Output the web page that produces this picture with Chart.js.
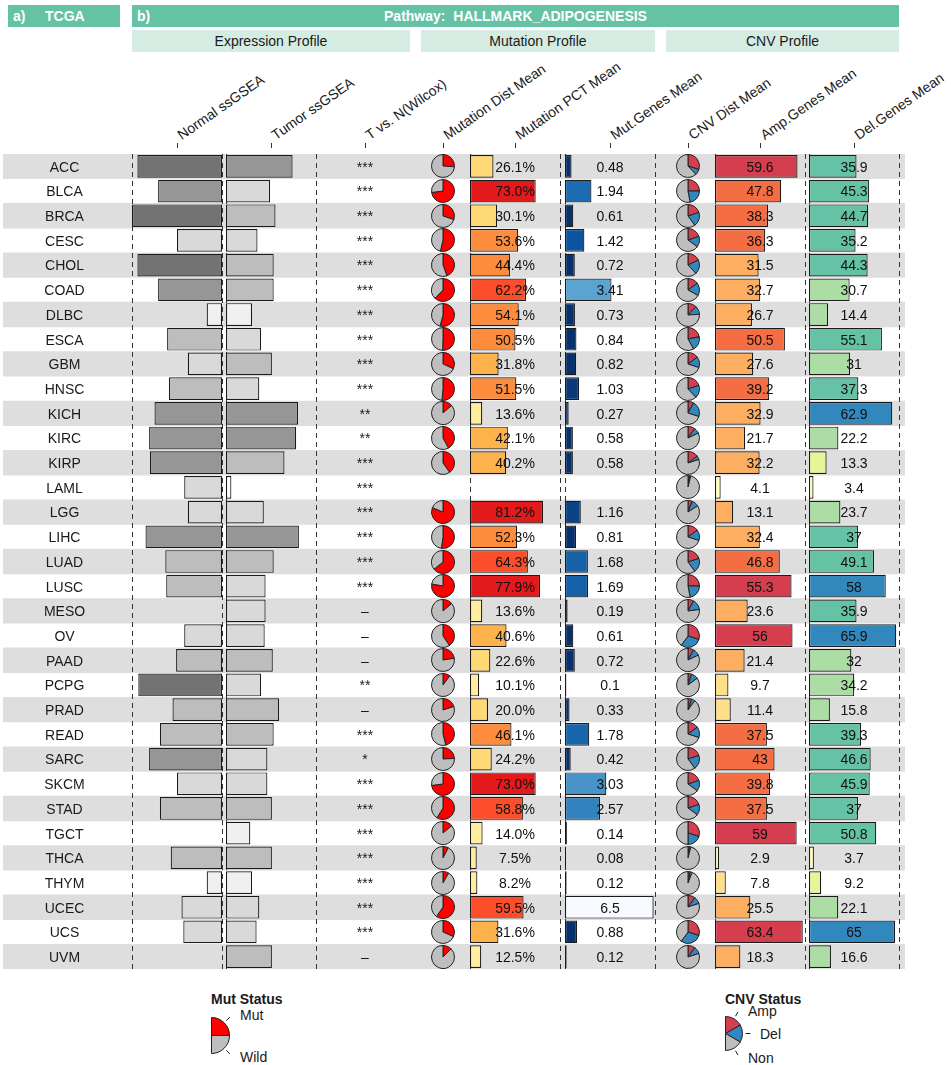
<!DOCTYPE html>
<html>
<head>
<meta charset="utf-8">
<title>HALLMARK_ADIPOGENESIS</title>
<script src="https://cdn.jsdelivr.net/npm/chart.js@4.4.1/dist/chart.umd.min.js"></script>
<style>
  body { margin: 0; background: #fff; }
  #page { position: relative; width: 951px; height: 1065px; overflow: hidden;
          font-family: "Liberation Sans", Arial, Helvetica, sans-serif; color: #1a1a1a; }
  #page canvas { position: absolute; }
  .hbar { position: absolute; top: 5px; height: 22px; line-height: 22px; background: #66c2a5;
          color: #fff; font-weight: bold; font-size: 14px; }
  .hbar span { position: absolute; top: 0; }
  .sub { position: absolute; top: 30px; height: 22px; line-height: 22px; background: #d5ece3;
         font-size: 14px; text-align: center; }
  .colname { position: absolute; top: 128px; height: 14px; line-height: 14px; font-size: 14px;
             white-space: nowrap; transform-origin: 0 100%; transform: rotate(-35deg); }
  .tick { position: absolute; top: 143px; width: 1px; height: 5px; background: #333; }
  .leg { position: absolute; font-size: 14px; line-height: 14px; white-space: nowrap; }
</style>
</head>
<body>
<div id="page">
  <div class="hbar" style="left:8px;width:112px"><span style="left:5px">a)</span><span style="left:37px">TCGA</span></div>
  <div class="hbar" style="left:132px;width:767px"><span style="left:5px">b)</span>
    <div style="text-align:center">Pathway:&nbsp; HALLMARK_ADIPOGENESIS</div></div>
  <div class="sub" style="left:132px;width:278px">Expression Profile</div>
  <div class="sub" style="left:421px;width:234px">Mutation Profile</div>
  <div class="sub" style="left:666px;width:233px">CNV Profile</div>

  <div class="leg" style="left:211px;top:992px;font-weight:bold">Mut Status</div>
  <div class="leg" style="left:240px;top:1008px">Mut</div>
  <div class="leg" style="left:240px;top:1050px">Wild</div>
  <div class="leg" style="left:725px;top:992px;font-weight:bold">CNV Status</div>
  <div class="leg" style="left:748px;top:1004px">Amp</div>
  <div class="leg" style="left:760px;top:1027px">Del</div>
  <div class="leg" style="left:748px;top:1051px">Non</div>
</div>

<script>
// ---- data ----
const cancers = ['ACC','BLCA','BRCA','CESC','CHOL','COAD','DLBC','ESCA','GBM','HNSC',
  'KICH','KIRC','KIRP','LAML','LGG','LIHC','LUAD','LUSC','MESO','OV',
  'PAAD','PCPG','PRAD','READ','SARC','SKCM','STAD','TGCT','THCA','THYM',
  'UCEC','UCS','UVM'];

// relative ssGSEA score (0-1)
const normalSsgsea = [0.94,0.71,1.00,0.50,0.94,0.71,0.17,0.61,0.38,0.59,
  0.75,0.81,0.80,0.42,0.38,0.85,0.63,0.62,null,0.42,
  0.51,0.93,0.55,0.69,0.81,0.50,0.69,null,0.57,0.17,
  0.45,0.43,null];
const tumorSsgsea = [0.74,0.49,0.55,0.35,0.53,0.53,0.29,0.39,0.51,0.37,
  0.80,0.78,0.65,0.06,0.42,0.81,0.53,0.44,0.44,0.43,
  0.52,0.39,0.59,0.53,0.46,0.46,0.51,0.27,0.51,0.29,
  0.37,0.34,0.51];
const tvnSignif = ['***','***','***','***','***','***','***','***','***','***',
  '**','**','***','***','***','***','***','***','\u2013','\u2013',
  '\u2013','**','\u2013','***','*','***','***','***','***','***',
  '***','***','\u2013'];

const mutPct = [26.1,73.0,30.1,53.6,44.4,62.2,54.1,50.5,31.8,51.5,
  13.6,42.1,40.2,null,81.2,52.3,64.3,77.9,13.6,40.6,
  22.6,10.1,20.0,46.1,24.2,73.0,58.8,14.0,7.5,8.2,
  59.5,31.6,12.5];
const mutGenes = [0.48,1.94,0.61,1.42,0.72,3.41,0.73,0.84,0.82,1.03,
  0.27,0.58,0.58,null,1.16,0.81,1.68,1.69,0.19,0.61,
  0.72,0.1,0.33,1.78,0.42,3.03,2.57,0.14,0.08,0.12,
  6.5,0.88,0.12];

// CNV distribution (% amplified / % deleted, rest = none)
const cnvAmp = [30,25,20,20,18,15,12,22,15,20,
  8,10,15,2,6,15,20,25,8,30,
  8,5,5,15,20,20,20,30,2,3,
  10,30,10];
const cnvDel = [8,22,20,15,20,18,12,20,15,18,
  22,8,5,2,10,15,20,22,15,30,
  10,10,5,15,20,15,15,20,2,3,
  10,30,10];
const ampGenes = [59.6,47.8,38.3,36.3,31.5,32.7,26.7,50.5,27.6,39.2,
  32.9,21.7,32.2,4.1,13.1,32.4,46.8,55.3,23.6,56,
  21.4,9.7,11.4,37.5,43,39.8,37.5,59,2.9,7.8,
  25.5,63.4,18.3];
const delGenes = [35.9,45.3,44.7,35.2,44.3,30.7,14.4,55.1,31,37.3,
  62.9,22.2,13.3,3.4,23.7,37,49.1,58,35.9,65.9,
  32,34.2,15.8,39.3,46.6,45.9,37,50.8,3.7,9.2,
  22.1,65,16.6];

const columnNames = ['Normal ssGSEA','Tumor ssGSEA','T vs. N(Wilcox)','Mutation Dist Mean',
  'Mutation PCT Mean','Mut.Genes Mean','CNV Dist Mean','Amp.Genes Mean','Del.Genes Mean'];
const columnCenters = [177, 271, 365, 443, 515, 610, 688, 760, 854];

// ---- colour scales ----
function greyFor(v) {
  if (v > 0.88) return '#737373';
  if (v > 0.7) return '#969696';
  if (v > 0.5) return '#bdbdbd';
  if (v > 0.3) return '#d9d9d9';
  if (v > 0.1) return '#f0f0f0';
  return '#ffffff';
}
function mutPctColor(v) {
  if (v >= 70) return '#e31a1c';
  if (v >= 56) return '#fc4e2a';
  if (v >= 44) return '#fd8d3c';
  if (v >= 31) return '#feb24c';
  if (v >= 17) return '#fed976';
  return '#ffeda0';
}
const blueStops = [[0,'#08306b'],[0.9,'#08306b'],[1.42,'#0b559f'],[1.94,'#1d6cb1'],
  [2.57,'#3282be'],[3.41,'#5ba3d0'],[6.5,'#f7fbff']];
function hex2rgb(h) { return [1,3,5].map(k => parseInt(h.substr(k, 2), 16)); }
function mutGenesColor(v) {
  for (let k = 1; k < blueStops.length; k++) {
    if (v <= blueStops[k][0]) {
      const [v0, c0] = blueStops[k - 1], [v1, c1] = blueStops[k];
      const t = (v - v0) / (v1 - v0);
      const a = hex2rgb(c0), b = hex2rgb(c1);
      return 'rgb(' + a.map((x, j) => Math.round(x + (b[j] - x) * t)).join(',') + ')';
    }
  }
  return blueStops[blueStops.length - 1][1];
}
function ampColor(v) {
  if (v >= 54) return '#d53e4f';
  if (v >= 33.5) return '#f46d43';
  if (v >= 12) return '#fdae61';
  if (v >= 5) return '#fee08b';
  return '#ffffbf';
}
function delColor(v) {
  if (v >= 57) return '#3288bd';
  if (v >= 35) return '#66c2a5';
  if (v >= 14) return '#abdda4';
  if (v >= 5) return '#e6f598';
  return '#ffffbf';
}

// ---- layout ----
const ROW_TOP = 154, ROWS_H = 815;
const FONT = '14px "Liberation Sans", Arial, sans-serif';
const page = document.getElementById('page');
Chart.defaults.font.family = '"Liberation Sans", Arial, sans-serif';

columnNames.forEach((name, i) => {
  const t = document.createElement('div');
  t.className = 'tick';
  t.style.left = (columnCenters[i] - 0.5) + 'px';
  page.appendChild(t);
  const d = document.createElement('div');
  d.className = 'colname';
  d.style.left = (columnCenters[i] + 5.5) + 'px';
  d.textContent = name;
  page.appendChild(d);
});

function addCanvas(left, top, w, h) {
  const c = document.createElement('canvas');
  c.width = w; c.height = h;
  c.style.left = left + 'px'; c.style.top = top + 'px';
  c.style.width = w + 'px'; c.style.height = h + 'px';
  page.appendChild(c);
  return c;
}
function baseOptions(extra) {
  return Object.assign({
    responsive: false, animation: false, devicePixelRatio: 1, events: [],
    plugins: { legend: { display: false }, tooltip: { enabled: false } }
  }, extra);
}

// background stripes + row names + significance
const rowText = {
  id: 'rowText',
  afterDatasetsDraw(chart) {
    const { ctx, scales: { y } } = chart;
    ctx.save();
    ctx.font = FONT;
    ctx.fillStyle = '#1a1a1a';
    ctx.textAlign = 'center';
    ctx.textBaseline = 'middle';
    cancers.forEach((name, i) => {
      const py = y.getPixelForValue(i) + 1.5;
      ctx.fillText(name, 61.5, py);
      ctx.fillText(tvnSignif[i], 362, py);
    });
    ctx.restore();
  }
};
const stripeChart = new Chart(addCanvas(3, ROW_TOP, 902, ROWS_H), {
  type: 'bar',
  data: {
    labels: cancers,
    datasets: [{
      data: cancers.map(() => 1),
      backgroundColor: c => c.dataIndex % 2 === 0 ? '#dedede' : 'rgba(0,0,0,0)',
      barPercentage: 1, categoryPercentage: 1
    }]
  },
  options: baseOptions({
    indexAxis: 'y',
    scales: { x: { display: false, min: 0, max: 1 }, y: { display: false } }
  }),
  plugins: [rowText]
});

// one horizontal bar panel
function barPanel(left, width, values, max, colorFn, format, reverse) {
  const panel = {
    id: 'panel',
    beforeDatasetsDraw(chart) {
      const { ctx, scales: { x }, height } = chart;
      ctx.save();
      ctx.strokeStyle = '#333';
      ctx.lineWidth = 1;
      ctx.setLineDash([5, 4]);
      [0, max].forEach(v => {
        const px = Math.round(x.getPixelForValue(v)) + 0.5;
        ctx.beginPath();
        ctx.moveTo(px, 0);
        ctx.lineTo(px, height);
        ctx.stroke();
      });
      ctx.restore();
    },
    afterDatasetsDraw(chart) {
      if (!format) return;
      const { ctx, chartArea, scales: { y } } = chart;
      const cx = (chartArea.left + chartArea.right) / 2;
      ctx.save();
      ctx.font = FONT;
      ctx.fillStyle = '#111';
      ctx.textAlign = 'center';
      ctx.textBaseline = 'middle';
      values.forEach((v, i) => {
        if (v == null) return;
        ctx.fillText(format(v), cx, y.getPixelForValue(i) + 1.5);
      });
      ctx.restore();
    }
  };
  return new Chart(addCanvas(left - 2, ROW_TOP, width + 4, ROWS_H), {
    type: 'bar',
    data: {
      labels: cancers,
      datasets: [{
        data: values,
        backgroundColor: values.map(v => v == null ? 'rgba(0,0,0,0)' : colorFn(v)),
        borderColor: '#1a1a1a',
        borderWidth: 1.2,
        borderSkipped: false,
        barPercentage: 0.92,
        categoryPercentage: 1
      }]
    },
    options: baseOptions({
      indexAxis: 'y',
      layout: { padding: { left: 2, right: 2 } },
      scales: {
        x: { display: false, min: 0, max: max, reverse: !!reverse },
        y: { display: false }
      }
    }),
    plugins: [panel]
  });
}

barPanel(132, 90, normalSsgsea, 1, greyFor, null, true);
barPanel(226, 90, tumorSsgsea, 1, greyFor, null, false);
barPanel(470, 90, mutPct, 100, mutPctColor, v => v.toFixed(1) + '%');
barPanel(565, 90, mutGenes, 6.6, mutGenesColor, v => String(v));
barPanel(715, 90, ampGenes, 65, ampColor, v => String(v));
barPanel(809, 90, delGenes, 68, delColor, v => String(v));

// pies per row
function rowPie(cx, i, values, colors) {
  const cy = ROW_TOP + stripeChart.scales.y.getPixelForValue(i);
  new Chart(addCanvas(Math.round(cx - 12), Math.round(cy - 12), 24, 24), {
    type: 'pie',
    data: { datasets: [{ data: values, backgroundColor: colors, borderColor: '#222',
      borderWidth: 1, hoverBorderWidth: 1, hoverOffset: 0 }] },
    options: baseOptions({})
  });
}
cancers.forEach((name, i) => {
  if (mutPct[i] != null) {
    rowPie(443.3, i, [mutPct[i], 100 - mutPct[i]], ['#ff0000', '#bebebe']);
  }
  rowPie(688.3, i, [cnvAmp[i], cnvDel[i], 100 - cnvAmp[i] - cnvDel[i]], ['#d53e4f', '#3288bd', '#bebebe']);
});

// legend half pies
function legendPie(cx, cy, r, values, colors) {
  const pl = 2, pt = 12, pr = 14, pb = 12;
  const leader = {
    id: 'leader',
    afterDatasetsDraw(chart) {
      const { ctx } = chart;
      ctx.save();
      ctx.strokeStyle = '#222';
      ctx.lineWidth = 1;
      chart.getDatasetMeta(0).data.forEach(arc => {
        const p = arc.getProps(['x', 'y', 'startAngle', 'endAngle', 'outerRadius']);
        const a = (p.startAngle + p.endAngle) / 2;
        ctx.beginPath();
        ctx.moveTo(p.x + Math.cos(a) * (p.outerRadius + 3), p.y + Math.sin(a) * (p.outerRadius + 3));
        ctx.lineTo(p.x + Math.cos(a) * (p.outerRadius + 8), p.y + Math.sin(a) * (p.outerRadius + 8));
        ctx.stroke();
      });
      ctx.restore();
    }
  };
  new Chart(addCanvas(Math.round(cx - pl - 0.5), Math.round(cy - pt - r - 0.5), pl + r + 1 + pr, pt + 2 * r + 1 + pb), {
    type: 'pie',
    data: { labels: values.map((v, k) => k), datasets: [{ data: values, backgroundColor: colors,
      borderColor: '#222', borderWidth: 1, hoverBorderWidth: 1, hoverOffset: 0 }] },
    options: baseOptions({
      rotation: 0, circumference: 180,
      layout: { padding: { left: pl, top: pt, right: pr, bottom: pb } }
    }),
    plugins: [leader]
  });
}
legendPie(211.7, 1035.7, 18, [1, 1], ['#ff0000', '#bebebe']);
legendPie(725.3, 1033.3, 17, [1, 1, 1], ['#d53e4f', '#3288bd', '#bebebe']);
</script>
</body>
</html>
